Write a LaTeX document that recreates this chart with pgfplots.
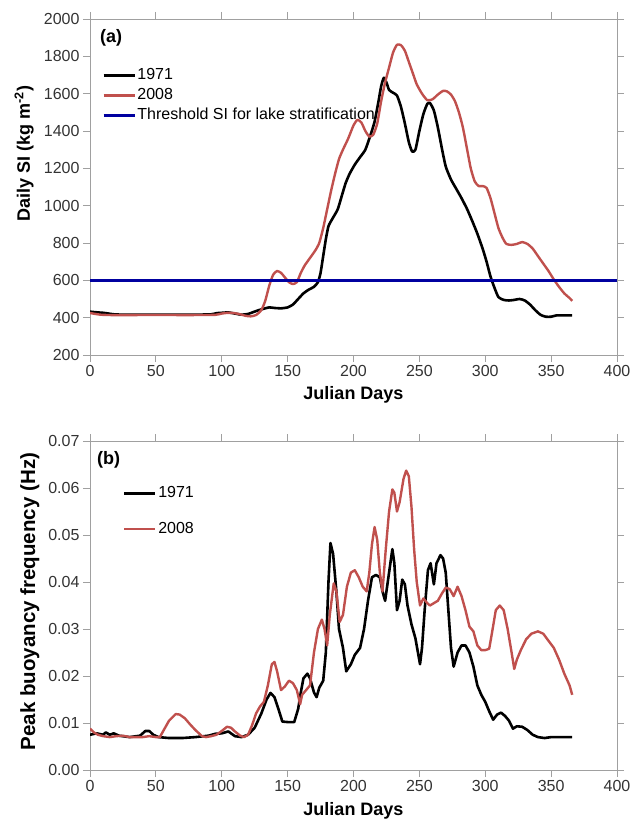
\documentclass[border=0pt]{standalone}
\usepackage{pgfplots}
\pgfplotsset{compat=1.18}
\usepackage{fontspec}
\setmainfont{Liberation Sans}
\definecolor{myred}{RGB}{192,80,77}
\definecolor{mynavy}{RGB}{0,0,160}
\definecolor{axgray}{RGB}{160,160,160}
\pgfplotsset{
  myaxis/.style={
    scale only axis,
    anchor=south west,
    xmin=0, xmax=400,
    xtick={0,50,...,400},
    tick pos=both, tick align=outside,
    major tick length=7pt,
    axis line style={color=axgray, line width=0.9pt},
    every tick/.style={color=axgray, line width=0.9pt},
    /pgf/number format/assume math mode=true,
    ticklabel style={font=\fontsize{16}{19}\selectfont, color=black!80},
    xlabel style={font=\fontsize{18}{21}\selectfont\bfseries},
    ylabel style={anchor=center},
    legend cell align=left,
    legend style={draw=none, fill=none, inner xsep=0pt, inner ysep=0pt,
      font=\fontsize{16}{19}\selectfont, anchor=north west,
      nodes={inner xsep=1.5pt, inner ysep=0pt, text height=12pt, text depth=4pt}},
    legend image code/.code={\draw[#1] (0pt,0pt) -- (31pt,0pt);},
    line join=round,
  }
}
\begin{document}
\begin{tikzpicture}
\useasboundingbox (0,0) rectangle (631pt,821pt);
% ---------------- Panel (a)
\begin{axis}[myaxis,
  at={(90pt,466pt)}, width=527pt, height=336pt,
  ymin=200, ymax=2000, ytick={200,400,...,2000},
  /pgf/number format/1000 sep={},
  xlabel={Julian Days},
  ylabel={Daily SI (kg m\textsuperscript{-2})},
  ylabel style={at={(axis description cs:-0.125,0.60)}, font=\fontsize{18}{21}\selectfont\bfseries},
  xlabel style={at={(axis description cs:0.5,-0.082)}, anchor=north},
  legend style={at={(axis description cs:0.023,0.856)}, row sep=4pt},
]
\addplot[black, line width=2.6pt, smooth, tension=0.35] coordinates {
(0,432) (3,430) (6,428) (10,426) (14,422) (18,418) (25,416) (40,416) (60,416) (80,416)
(92,418) (96,424) (100,426) (105,428) (110,422) (115,416) (120,420) (124,430) (128,440)
(132,448) (136,455) (140,452) (145,450) (150,455) (154,470) (158,500) (162,530) (166,550)
(170,565) (173,590) (175,640) (177,730) (179,820) (181,890) (184,930) (188,980) (191,1050)
(194,1120) (197,1170) (201,1220) (205,1260) (209,1300) (213,1380) (216,1450) (219,1560)
(221,1640) (223,1685) (225,1660) (227,1620) (230,1605) (233,1590) (236,1530) (239,1440)
(242,1340) (244.5,1290) (247,1300) (250,1400) (253,1490) (256,1545) (258,1550) (261,1510)
(264,1420) (267,1310) (270,1210) (274,1140) (278,1090) (282,1040) (286,985) (290,920)
(294,850) (298,770) (301,700) (304,620) (307,560) (310,510) (314,495) (318,492) (322,495)
(326,500) (330,492) (334,470) (338,440) (342,415) (346,405) (350,405) (354,412) (360,412) (366,412)
};
\addlegendentry{1971}
\addplot[myred, line width=2.4pt, smooth, tension=0.35] coordinates {
(0,425) (4,420) (8,416) (15,414) (40,414) (60,414) (80,414) (95,415) (100,422) (105,426)
(110,424) (114,418) (118,410) (122,407) (126,414) (130,440) (133,490) (136,570) (139,630)
(142,650) (145,640) (148,615) (151,590) (154,580) (157,590) (160,640) (163,680) (167,720)
(171,760) (174,800) (177,880) (180,980) (183,1080) (186,1170) (189,1250) (192,1300)
(196,1360) (200,1430) (203,1460) (206,1445) (209,1400) (212,1370) (215,1380) (218,1440)
(221,1560) (224,1660) (227,1740) (230,1820) (233,1862) (236,1860) (239,1830) (242,1770)
(245,1710) (248,1650) (252,1600) (256,1565) (260,1570) (264,1595) (268,1615) (271,1612)
(274,1595) (277,1560) (280,1500) (283,1420) (286,1310) (289,1200) (292,1130) (295,1105)
(298,1105) (301,1095) (304,1040) (307,960) (310,880) (313,830) (316,795) (320,790)
(324,795) (328,805) (332,795) (336,770) (340,730) (344,690) (348,650) (352,605) (356,565)
(360,530) (364,505) (366,490)
};
\addlegendentry{2008}
\addplot[mynavy, line width=2.6pt] coordinates {(0,600) (400,600)};
\addlegendentry{Threshold SI for lake stratification}
\node[anchor=west, inner sep=0pt, font=\fontsize{18}{21}\selectfont\bfseries] at (rel axis cs:0.019,0.945) {(a)};
\end{axis}
% ---------------- Panel (b)
\begin{axis}[myaxis,
  at={(90pt,51pt)}, width=527pt, height=329pt,
  ymin=0, ymax=0.07, ytick={0,0.01,...,0.07},
  yticklabel style={/pgf/number format/.cd, fixed, fixed zerofill, precision=2},
  scaled y ticks=false,
  xlabel={Julian Days},
  ylabel={Peak buoyancy frequency (Hz)},
  ylabel style={at={(axis description cs:-0.114,0.512)}, font=\fontsize{20.5}{24}\selectfont\bfseries},
  xlabel style={at={(axis description cs:0.5,-0.088)}, anchor=north},
  legend style={at={(axis description cs:0.0626,0.866)}, row sep=20pt},
]
\addplot[black, line width=2.6pt] coordinates {
(0,0.0075) (5,0.0078) (10,0.0075) (12,0.008) (15,0.0075) (18,0.0078) (22,0.0073) (30,0.007)
(38,0.0073) (42,0.0083) (45,0.0083) (48,0.0075) (52,0.007) (60,0.0068) (70,0.0068) (80,0.007)
(90,0.0073) (95,0.0077) (100,0.0078) (105,0.0082) (110,0.0072) (115,0.007) (120,0.0075)
(125,0.009) (130,0.012) (134,0.015) (137,0.0164) (140,0.0155) (143,0.013) (146,0.0103)
(150,0.0102) (155,0.0102) (158,0.013) (160,0.0165) (162,0.0195) (165,0.0205) (167,0.0195)
(170,0.0165) (172,0.0155) (174,0.0175) (177,0.019) (179,0.025) (181,0.040) (182.5,0.0483)
(184.5,0.046) (187,0.038) (189,0.030) (192,0.026) (194.5,0.021) (198,0.0225) (201,0.0245)
(205,0.026) (208,0.030) (211,0.036) (214,0.041) (217,0.0415) (220,0.041) (222,0.038)
(224,0.036) (226,0.040) (229.5,0.047) (231,0.044) (233,0.034) (235,0.036) (237,0.0405)
(239,0.0395) (241,0.035) (244,0.031) (247,0.028) (250.5,0.0225) (252,0.026) (254,0.034)
(256.5,0.0425) (258.5,0.044) (261,0.0395) (263,0.044) (266,0.0457) (268,0.045) (270,0.042)
(272,0.034) (274,0.026) (276,0.022) (279,0.025) (282,0.0265) (285,0.0265) (288,0.025)
(291,0.022) (294,0.018) (297,0.016) (300,0.0145) (303,0.0125) (306,0.0107) (309,0.0118)
(312,0.0122) (315,0.0115) (318,0.0105) (321,0.0088) (324,0.0093) (328,0.0092) (332,0.0085)
(336,0.0075) (340,0.007) (345,0.0068) (350,0.007) (360,0.007) (366,0.007)
};
\addlegendentry{1971}
\addplot[myred, line width=2.4pt] coordinates {
(0,0.0088) (3,0.008) (6,0.0075) (10,0.0072) (15,0.007) (20,0.0072) (25,0.0073) (30,0.007)
(40,0.007) (45,0.0072) (50,0.007) (53,0.007) (56,0.0085) (60,0.0105) (65,0.0119) (68,0.0118)
(72,0.011) (76,0.0097) (80,0.0085) (85,0.0072) (88,0.007) (92,0.0072) (96,0.0075) (100,0.0083)
(104,0.0092) (107,0.009) (110,0.0082) (114,0.0073) (117,0.007) (120,0.0075) (123,0.0095)
(126,0.012) (129,0.0135) (132,0.0145) (135,0.018) (138,0.0225) (140,0.023) (142,0.021)
(145,0.017) (148,0.0178) (151,0.019) (154,0.0185) (157,0.017) (159.5,0.014) (161,0.016)
(164,0.017) (167,0.018) (170,0.025) (173,0.030) (176,0.032) (178,0.030) (180,0.0265)
(182,0.033) (185,0.0397) (187,0.038) (189.5,0.0315) (192,0.033) (195,0.039) (198,0.042)
(201,0.0425) (204,0.041) (207,0.039) (210,0.038) (212,0.042) (214,0.048) (216,0.0517)
(218,0.049) (220,0.042) (222,0.038) (224.5,0.047) (227,0.055) (229.5,0.0597) (231,0.059)
(233,0.055) (235,0.057) (238,0.062) (240,0.0637) (242,0.0625) (244,0.056) (246,0.047)
(248,0.040) (250.5,0.035) (253,0.0365) (256,0.0355) (258,0.035) (261,0.0355) (264,0.036)
(267,0.0375) (270,0.0388) (273,0.0385) (276,0.037) (279,0.039) (282,0.037) (285,0.034)
(288,0.0305) (291,0.0295) (294,0.0265) (297,0.0255) (300,0.0255) (303,0.0258) (305,0.029)
(308,0.034) (311,0.035) (314,0.034) (317,0.030) (320,0.025) (322,0.0215) (324,0.0235)
(327,0.0255) (331,0.0278) (335,0.029) (340,0.0295) (344,0.029) (348,0.0275) (352,0.026)
(356,0.0235) (360,0.0205) (364,0.018) (366,0.016)
};
\addlegendentry{2008}
\node[anchor=west, inner sep=0pt, font=\fontsize{18}{21}\selectfont\bfseries] at (rel axis cs:0.013,0.942) {(b)};
\end{axis}
\end{tikzpicture}
\end{document}
